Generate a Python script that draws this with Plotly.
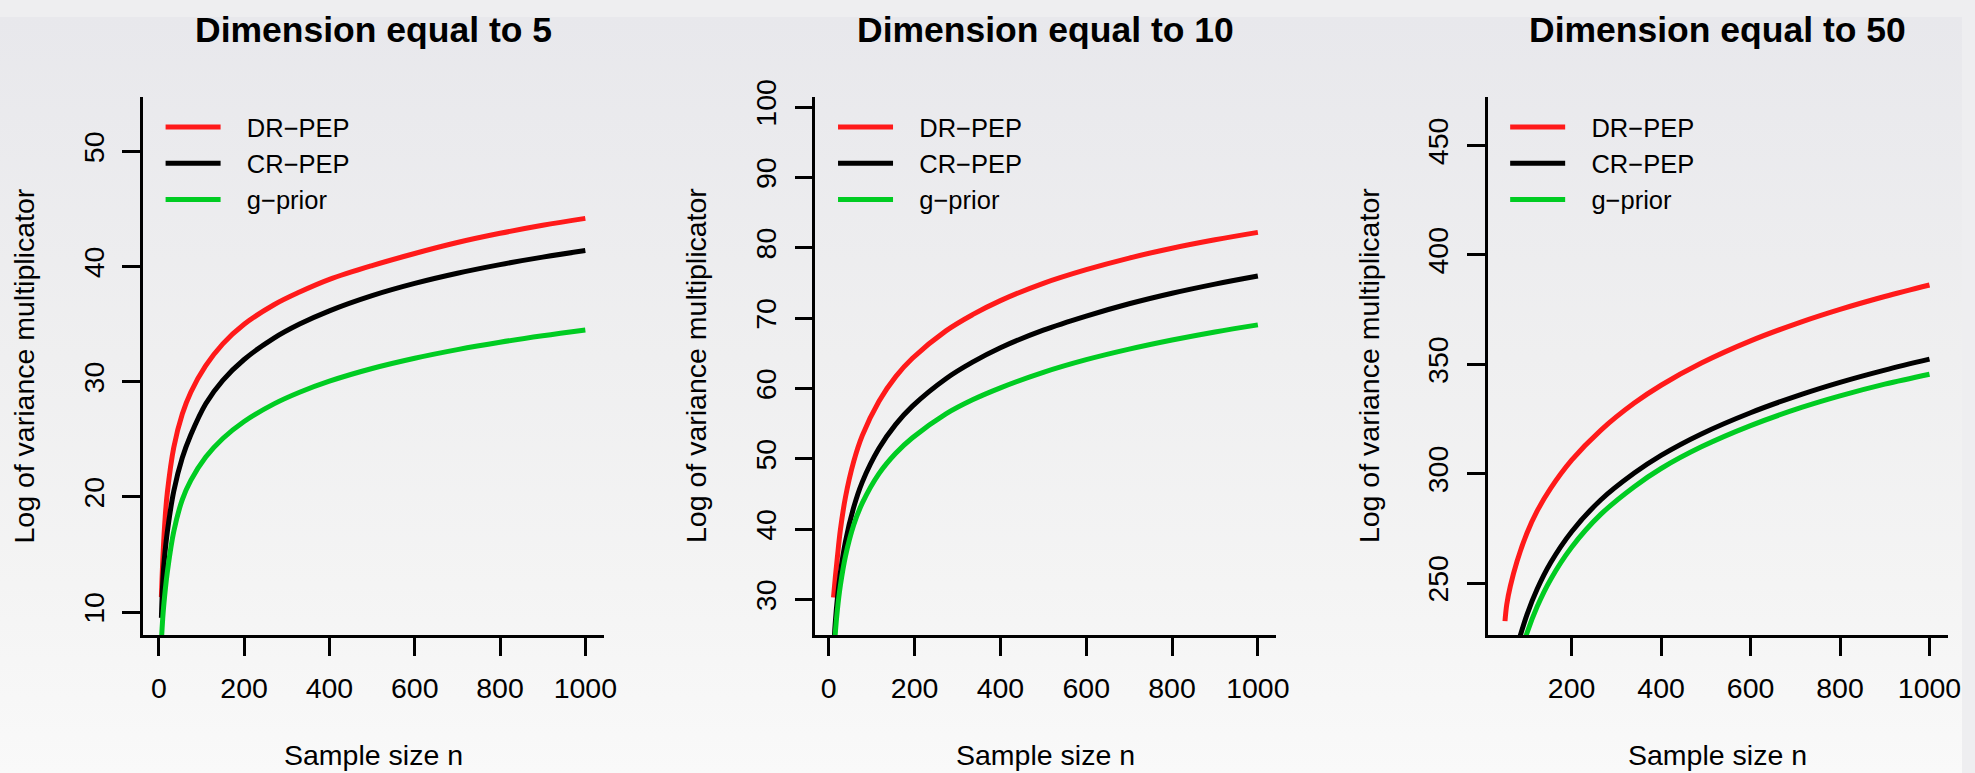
import base64
import plotly.graph_objects as go

# ---------------- data ----------------
series_names = ["DR\u2212PEP", "CR\u2212PEP", "g\u2212prior"]
series_colors = ["#ff1a1a", "#000000", "#00cc22"]

# Dimension 5
n_p5 = [6, 10, 15, 20, 35, 55, 75, 110, 150, 200, 270, 330, 400, 500, 600, 700, 800, 900, 1000]
drpep_p5 = [11.3, 15.1, 18.3, 20.4, 24.3, 27.2, 29.1, 31.4, 33.3, 35.0, 36.7, 37.8, 38.9, 40.1, 41.15, 42.1, 42.9, 43.6, 44.2]
crpep_p5 = [9.5, 13.2, 15.4, 17.0, 20.5, 23.4, 25.4, 28.1, 30.13, 31.94, 33.8, 35.02, 36.17, 37.49, 38.55, 39.43, 40.18, 40.83, 41.4]
gprior_p5 = [7.5, 9.9, 11.9, 13.5, 17.0, 19.77, 21.44, 23.47, 25.08, 26.56, 28.09, 29.1, 30.06, 31.16, 32.05, 32.8, 33.44, 34.0, 34.5]

# Dimension 10
n_p10 = [11, 15, 20, 27, 39, 58, 78, 117, 156, 195, 273, 335, 400, 500, 600, 700, 800, 900, 1000]
drpep_p10 = [30.3, 33.0, 36.0, 39.9, 44.6, 49.6, 53.3, 58.2, 61.7, 64.3, 68.2, 70.5, 72.5, 74.96, 76.9, 78.55, 79.95, 81.15, 82.2]
crpep_p10 = [22.7, 26.6, 30.1, 33.8, 38.3, 43.1, 46.7, 51.5, 54.9, 57.5, 61.4, 63.75, 65.8, 68.3, 70.3, 72.05, 73.55, 74.85, 76.0]
gprior_p10 = [21.4, 25.1, 28.5, 32.0, 36.2, 40.6, 43.7, 47.9, 50.8, 53.0, 56.4, 58.4, 60.1, 62.3, 64.1, 65.6, 66.9, 68.05, 69.05]

# Dimension 50
n_p50 = [51, 55, 63, 78, 100, 123, 153, 200, 265, 340, 400, 490, 600, 714, 800, 900, 1000]
drpep_p50 = [232.6, 240.3, 248.6, 260.0, 272.8, 283.0, 293.3, 306.2, 319.85, 332.3, 340.45, 350.6, 360.74, 369.44, 375.14, 381.03, 386.3]
crpep_p50 = [None, None, None, 221.0, 235.5, 247.3, 259.3, 273.5, 288.0, 300.3, 308.4, 318.2, 327.9, 336.3, 341.8, 347.4, 352.4]
gprior_p50 = [None, None, None, 212.2, 227.1, 239.3, 251.7, 266.4, 281.4, 294.1, 302.4, 312.3, 322.0, 330.3, 335.6, 340.95, 345.5]

panel_titles = ["Dimension equal to 5", "Dimension equal to 10", "Dimension equal to 50"]
x_title = "Sample size n"
y_title = "Log of variance multiplicator"

xticks_p5 = [0, 200, 400, 600, 800, 1000]
xticks_p10 = [0, 200, 400, 600, 800, 1000]
xticks_p50 = [200, 400, 600, 800, 1000]
yticks_p5 = [10, 20, 30, 40, 50]
yticks_p10 = [30, 40, 50, 60, 70, 80, 90, 100]
yticks_p50 = [250, 300, 350, 400, 450]

# ---------------- layout geometry ----------------
W, H = 1975, 773
# the photographed page is slightly shrunk and shifted; compensate so that
# target positions (in reference pixels) land where they should.
SX, SY, OY = 0.991, 0.98, 15.5

def fx(X):
    return X / SX

def fy(Y):
    return (Y - OY) / SY

def px_x(X):
    return fx(X) / W

def px_y(Y):
    return 1 - fy(Y) / H

plot_top, plot_bottom = 95.3, 634.7          # reference pixels
panel_left = [142.7, 813.5, 1484.0]          # reference pixels
panel_width = 459.5
x_ranges = [[-37, 1043], [-31, 1042.5], [12.2, 1041.9]]
y_ranges = [[8.02, 54.77], [24.97, 101.5], [226.3, 472.4]]

FONT = "Liberation Sans, Arial, Helvetica, sans-serif"
NBSP = "\u00a0"

panels = [
    (n_p5, [drpep_p5, crpep_p5, gprior_p5], xticks_p5, yticks_p5),
    (n_p10, [drpep_p10, crpep_p10, gprior_p10], xticks_p10, yticks_p10),
    (n_p50, [drpep_p50, crpep_p50, gprior_p50], xticks_p50, yticks_p50),
]

fig = go.Figure()
layout = dict(
    width=W, height=H, autosize=False,
    margin=dict(l=0, r=0, t=0, b=0),
    paper_bgcolor="#eeeef0", plot_bgcolor="rgba(0,0,0,0)",
    font=dict(family=FONT, color="black", size=28),
    annotations=[],
)

for i, (nvals, sers, xt, yt) in enumerate(panels):
    k = "" if i == 0 else str(i + 1)
    leg = "legend" if i == 0 else "legend" + str(i + 1)
    for name, col, vals in zip(series_names, series_colors, sers):
        fig.add_trace(go.Scatter(
            x=nvals, y=vals, name=NBSP * 3 + name, mode="lines",
            line=dict(color=col, width=5, shape="spline", smoothing=1.0),
            xaxis="x" + k, yaxis="y" + k, legend=leg, hoverinfo="skip",
        ))
    x0 = panel_left[i]
    x1 = x0 + panel_width
    common = dict(showline=True, linecolor="black", linewidth=2.5, ticks="outside",
                  ticklen=18, tickwidth=2.5, tickcolor="black", showgrid=False,
                  zeroline=False, tickfont=dict(size=28.5, family=FONT, color="black"))
    layout["xaxis" + k] = dict(domain=[px_x(x0), px_x(x1)], range=x_ranges[i],
                               anchor="y" + k, tickmode="array", tickvals=xt,
                               ticklabelstandoff=8, **common)
    layout["yaxis" + k] = dict(domain=[px_y(plot_bottom), px_y(plot_top)], range=y_ranges[i],
                               anchor="x" + k, tickmode="array", tickvals=yt,
                               tickangle=-90, ticklabelstandoff=7, **common)
    layout[leg] = dict(x=px_x(x0 + 17.5), y=1 - 89 / H, xanchor="left", yanchor="top",
                       bgcolor="rgba(0,0,0,0)", borderwidth=0,
                       font=dict(size=25.5, family=FONT, color="black"),
                       itemwidth=55, traceorder="normal")
    cx = (x0 + x1) / 2
    layout["annotations"].append(dict(
        text=panel_titles[i], x=px_x(cx), y=1 - 13.5 / H, xref="paper", yref="paper",
        xanchor="center", yanchor="middle", showarrow=False,
        font=dict(size=35.5, family=FONT, color="black", weight="bold")))
    layout["annotations"].append(dict(
        text=x_title, x=px_x(cx), y=px_y(755.3), xref="paper", yref="paper",
        xanchor="center", yanchor="middle", showarrow=False,
        font=dict(size=28.5, family=FONT, color="black")))
    layout["annotations"].append(dict(
        text=y_title, x=px_x(x0 - 119), y=px_y((plot_top + plot_bottom) / 2),
        xref="paper", yref="paper", xanchor="center", yanchor="middle",
        textangle=-90, showarrow=False,
        font=dict(size=28.5, family=FONT, color="black")))

svg = ("<svg xmlns='http://www.w3.org/2000/svg' viewBox='0 0 100 100' width='100' height='100' preserveAspectRatio='none'>"
       "<defs><linearGradient id='g' x1='0' y1='0' x2='0' y2='1'>"
       "<stop offset='0' stop-color='#e8e8ec'/>"
       "<stop offset='0.45' stop-color='#efeff0'/>"
       "<stop offset='0.75' stop-color='#f4f4f4'/>"
       "<stop offset='1' stop-color='#f9f9f9'/>"
       "</linearGradient></defs><rect width='100' height='100' fill='url(#g)'/></svg>")
src = "data:image/svg+xml;base64," + base64.b64encode(svg.encode()).decode()
layout["images"] = [dict(source=src, xref="paper", yref="paper", x=0, y=1, sizex=1, sizey=1,
                         xanchor="left", yanchor="top", sizing="stretch", layer="below")]

fig.update_layout(**layout)

post = (
    "document.documentElement.style.margin='0';"
    "document.documentElement.style.overflow='hidden';"
    "document.documentElement.style.background='linear-gradient(#e6e6ea,#f9f9f9)';"
    "document.body.style.margin='0';"
    "document.body.style.overflow='hidden';"
    "document.body.style.background='transparent';"
    "var d=document.getElementById('{plot_id}');"
    "d.style.position='fixed';d.style.left='0px';d.style.top='0px';"
)
fig.write_html(
    "out.html",
    config={"displayModeBar": False, "responsive": False},
    post_script=post,
)
